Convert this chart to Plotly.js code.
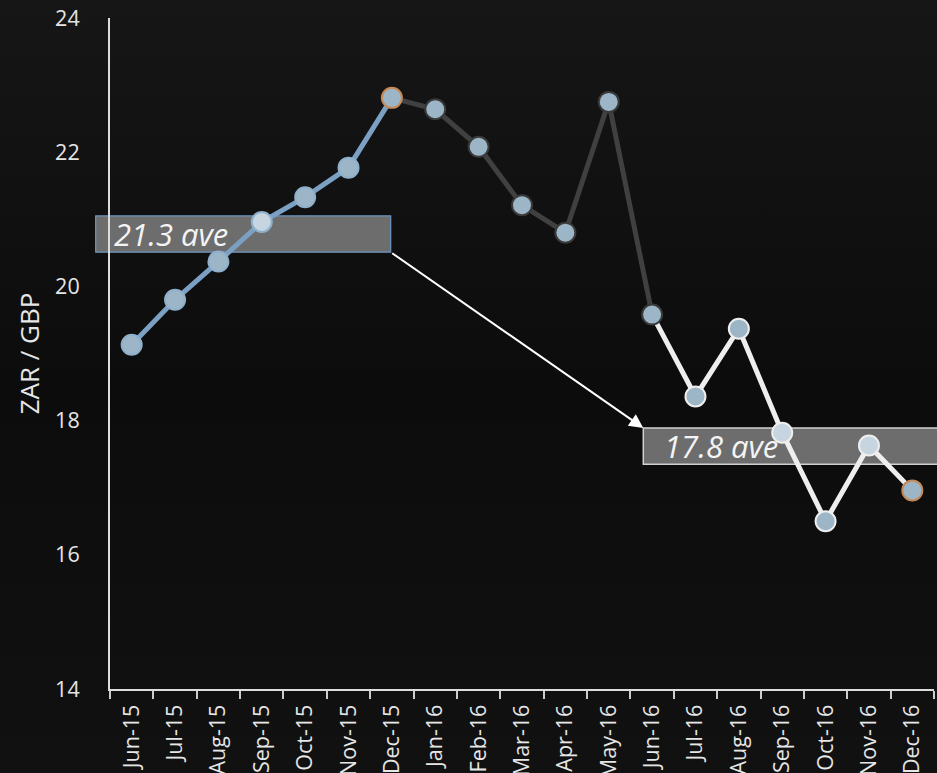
<!DOCTYPE html>
<html>
<head>
<meta charset="utf-8">
<script src="https://cdn.plot.ly/plotly-3.0.1.min.js"></script>
<style>
  html, body { margin: 0; padding: 0; }
  body {
    width: 937px; height: 773px; overflow: hidden;
    background: linear-gradient(to bottom, #161616 0%, #0c0c0c 50%, #111111 100%);
  }
  #chart { width: 937px; height: 773px; }
</style>
</head>
<body>
<div id="chart"></div>
<script>
// Monthly ZAR per GBP exchange rate, Jun 2015 - Dec 2016
var months = ['Jun-15','Jul-15','Aug-15','Sep-15','Oct-15','Nov-15','Dec-15',
              'Jan-16','Feb-16','Mar-16','Apr-16','May-16','Jun-16',
              'Jul-16','Aug-16','Sep-16','Oct-16','Nov-16','Dec-16'];
var zarPerGbp = [19.13, 19.80, 20.37, 20.96, 21.33, 21.77, 22.81,
                 22.64, 22.08, 21.21, 20.80, 22.75, 19.58,
                 18.36, 19.37, 17.82, 16.50, 17.63, 16.96];
var yTicks = [14, 16, 18, 20, 22, 24];
var aveLabels = ['21.3 ave', '17.8 ave'];

// segment boundaries (inclusive indices into months)
var rise = [0, 6];     // blue: Jun-15 .. Dec-15
var fall = [6, 12];    // grey: Dec-15 .. Jun-16
var after = [12, 18];  // white: Jun-16 .. Dec-16

var BLUE = '#7ba0c4', GREY = '#404040', WHITE = '#eeeeee';

function seg(range, color) {
  return {
    type: 'scatter', mode: 'lines',
    x: months.slice(range[0], range[1] + 1),
    y: zarPerGbp.slice(range[0], range[1] + 1),
    line: { color: color, width: 5 },
    hoverinfo: 'skip', showlegend: false
  };
}

// marker styling per point
var highlighted = { 'Sep-15': 1, 'Sep-16': 1, 'Nov-16': 1 };
var fill = months.map(function (m) { return highlighted[m] ? '#c6d5df' : '#9cb5c7'; });
var edge = months.map(function (m, i) {
  if (m === 'Dec-15' || m === 'Dec-16') return '#c58a58';
  if (i < rise[1]) return '#8fb0cc';
  if (i <= fall[1]) return '#3a3a3a';
  return WHITE;
});

var traces = [
  seg(rise, BLUE), seg(fall, GREY), seg(after, WHITE),
  {
    type: 'scatter', mode: 'markers',
    x: months, y: zarPerGbp,
    marker: { size: 20, color: fill, line: { color: edge, width: 2 } },
    showlegend: false
  }
];

var plotLeft = 110, plotW = 824;
function px(p) { return (p - plotLeft) / plotW; } // pixel -> x domain fraction

var layout = {
  width: 937, height: 773,
  margin: { l: 110, r: 3, t: 18, b: 84 },
  paper_bgcolor: 'rgba(0,0,0,0)',
  plot_bgcolor: 'rgba(0,0,0,0)',
  font: { family: 'Open Sans, sans-serif', color: '#e6e6e6' },
  showlegend: false,
  xaxis: {
    type: 'category', range: [-0.5, 18.5],
    showgrid: false, zeroline: false,
    showline: true, linecolor: '#dddddd', linewidth: 2,
    ticks: 'outside', tickson: 'boundaries', ticklen: 8, tickwidth: 2, tickcolor: '#cccccc',
    ticklabelstandoff: 5,
    tickangle: -90, tickfont: { size: 21.5, color: '#e6e6e6' },
    fixedrange: true
  },
  yaxis: {
    range: [14, 24], tickvals: yTicks,
    showgrid: false, zeroline: false,
    showline: true, linecolor: '#dddddd', linewidth: 2,
    ticks: 'outside', ticklen: 24, tickcolor: 'rgba(0,0,0,0)',
    tickfont: { size: 21.5, color: '#e6e6e6' },
    title: { text: 'ZAR / GBP', font: { size: 26, color: '#e6e6e6' }, standoff: 8 },
    fixedrange: true
  },
  shapes: [
    { type: 'rect', xref: 'paper', yref: 'y', layer: 'below',
      x0: px(95.7), x1: px(390.7), y0: 20.51, y1: 21.05,
      fillcolor: '#6d6d6d', line: { color: '#6f97c0', width: 1.2 } },
    { type: 'rect', xref: 'paper', yref: 'y', layer: 'below',
      x0: px(643.3), x1: px(960), y0: 17.35, y1: 17.89,
      fillcolor: '#6d6d6d', line: { color: '#d0d0d0', width: 1.5 } }
  ],
  annotations: [
    { xref: 'paper', yref: 'y', x: px(112), y: 20.78, xanchor: 'left', yanchor: 'middle',
      text: aveLabels[0], showarrow: false,
      font: { size: 31, style: 'italic', color: '#f4f4f4' } },
    { xref: 'paper', yref: 'y', x: px(662), y: 17.62, xanchor: 'left', yanchor: 'middle',
      text: aveLabels[1], showarrow: false,
      font: { size: 31, style: 'italic', color: '#f4f4f4' } },
    { xref: 'x domain', yref: 'y', axref: 'x domain', ayref: 'y',
      x: px(643.3), y: 17.89, ax: px(390.7), ay: 20.51,
      text: '', showarrow: true, arrowhead: 2, arrowsize: 1.4, arrowwidth: 2,
      arrowcolor: '#ffffff', standoff: 0, startstandoff: 0 }
  ]
};

Plotly.newPlot('chart', traces, layout, { displayModeBar: false, staticPlot: true });
</script>
</body>
</html>
